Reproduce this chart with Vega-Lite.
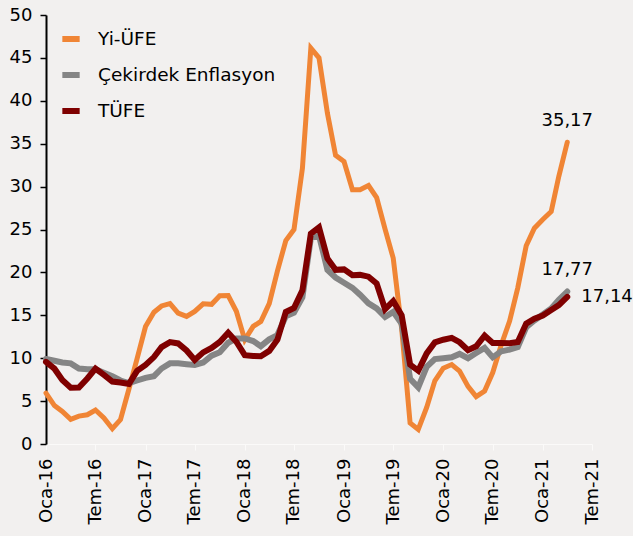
{
  "$schema": "https://vega.github.io/schema/vega-lite/v6.json",
  "autosize": "none",
  "width": 546,
  "height": 429,
  "padding": {"left": 46, "top": 15, "right": 41, "bottom": 92},
  "background": "#f2f0ef",
  "config": {
    "view": {"stroke": null},
    "font": "DejaVu Sans",
    "locale": {
      "number": {"decimal": ",", "thousands": ".", "grouping": [3], "currency": ["", " TL"]},
      "time": {
        "dateTime": "%a %e %b %X %Y",
        "date": "%d.%m.%Y",
        "time": "%H:%M:%S",
        "periods": ["ÖÖ", "ÖS"],
        "days": ["Pazar", "Pazartesi", "Salı", "Çarşamba", "Perşembe", "Cuma", "Cumartesi"],
        "shortDays": ["Paz", "Pzt", "Sal", "Çar", "Per", "Cum", "Cmt"],
        "months": ["Ocak", "Şubat", "Mart", "Nisan", "Mayıs", "Haziran", "Temmuz", "Ağustos", "Eylül", "Ekim", "Kasım", "Aralık"],
        "shortMonths": ["Oca", "Şub", "Mar", "Nis", "May", "Haz", "Tem", "Ağu", "Eyl", "Eki", "Kas", "Ara"]
      }
    }
  },
  "data": {
    "values": [
      {"date": "2016-01", "Yi-ÜFE": 5.94, "Çekirdek Enflasyon": 9.9, "TÜFE": 9.58},
      {"date": "2016-02", "Yi-ÜFE": 4.48, "Çekirdek Enflasyon": 9.7, "TÜFE": 8.78},
      {"date": "2016-03", "Yi-ÜFE": 3.80, "Çekirdek Enflasyon": 9.5, "TÜFE": 7.46},
      {"date": "2016-04", "Yi-ÜFE": 2.87, "Çekirdek Enflasyon": 9.4, "TÜFE": 6.57},
      {"date": "2016-05", "Yi-ÜFE": 3.25, "Çekirdek Enflasyon": 8.8, "TÜFE": 6.58},
      {"date": "2016-06", "Yi-ÜFE": 3.41, "Çekirdek Enflasyon": 8.7, "TÜFE": 7.64},
      {"date": "2016-07", "Yi-ÜFE": 3.96, "Çekirdek Enflasyon": 8.7, "TÜFE": 8.79},
      {"date": "2016-08", "Yi-ÜFE": 3.03, "Çekirdek Enflasyon": 8.3, "TÜFE": 8.05},
      {"date": "2016-09", "Yi-ÜFE": 1.78, "Çekirdek Enflasyon": 7.9, "TÜFE": 7.28},
      {"date": "2016-10", "Yi-ÜFE": 2.84, "Çekirdek Enflasyon": 7.4, "TÜFE": 7.16},
      {"date": "2016-11", "Yi-ÜFE": 6.41, "Çekirdek Enflasyon": 7.1, "TÜFE": 7.00},
      {"date": "2016-12", "Yi-ÜFE": 9.94, "Çekirdek Enflasyon": 7.4, "TÜFE": 8.53},
      {"date": "2017-01", "Yi-ÜFE": 13.69, "Çekirdek Enflasyon": 7.7, "TÜFE": 9.22},
      {"date": "2017-02", "Yi-ÜFE": 15.36, "Çekirdek Enflasyon": 7.9, "TÜFE": 10.13},
      {"date": "2017-03", "Yi-ÜFE": 16.09, "Çekirdek Enflasyon": 8.8, "TÜFE": 11.29},
      {"date": "2017-04", "Yi-ÜFE": 16.37, "Çekirdek Enflasyon": 9.4, "TÜFE": 11.87},
      {"date": "2017-05", "Yi-ÜFE": 15.26, "Çekirdek Enflasyon": 9.4, "TÜFE": 11.72},
      {"date": "2017-06", "Yi-ÜFE": 14.87, "Çekirdek Enflasyon": 9.3, "TÜFE": 10.90},
      {"date": "2017-07", "Yi-ÜFE": 15.45, "Çekirdek Enflasyon": 9.2, "TÜFE": 9.79},
      {"date": "2017-08", "Yi-ÜFE": 16.34, "Çekirdek Enflasyon": 9.5, "TÜFE": 10.68},
      {"date": "2017-09", "Yi-ÜFE": 16.28, "Çekirdek Enflasyon": 10.3, "TÜFE": 11.20},
      {"date": "2017-10", "Yi-ÜFE": 17.28, "Çekirdek Enflasyon": 10.7, "TÜFE": 11.90},
      {"date": "2017-11", "Yi-ÜFE": 17.30, "Çekirdek Enflasyon": 11.8, "TÜFE": 12.98},
      {"date": "2017-12", "Yi-ÜFE": 15.47, "Çekirdek Enflasyon": 12.3, "TÜFE": 11.92},
      {"date": "2018-01", "Yi-ÜFE": 12.14, "Çekirdek Enflasyon": 12.3, "TÜFE": 10.35},
      {"date": "2018-02", "Yi-ÜFE": 13.71, "Çekirdek Enflasyon": 12.0, "TÜFE": 10.26},
      {"date": "2018-03", "Yi-ÜFE": 14.28, "Çekirdek Enflasyon": 11.4, "TÜFE": 10.23},
      {"date": "2018-04", "Yi-ÜFE": 16.37, "Çekirdek Enflasyon": 12.2, "TÜFE": 10.85},
      {"date": "2018-05", "Yi-ÜFE": 20.16, "Çekirdek Enflasyon": 12.7, "TÜFE": 12.15},
      {"date": "2018-06", "Yi-ÜFE": 23.71, "Çekirdek Enflasyon": 14.9, "TÜFE": 15.39},
      {"date": "2018-07", "Yi-ÜFE": 25.00, "Çekirdek Enflasyon": 15.3, "TÜFE": 15.85},
      {"date": "2018-08", "Yi-ÜFE": 32.13, "Çekirdek Enflasyon": 17.1, "TÜFE": 17.90},
      {"date": "2018-09", "Yi-ÜFE": 46.15, "Çekirdek Enflasyon": 24.0, "TÜFE": 24.52},
      {"date": "2018-10", "Yi-ÜFE": 45.01, "Çekirdek Enflasyon": 24.3, "TÜFE": 25.24},
      {"date": "2018-11", "Yi-ÜFE": 38.54, "Çekirdek Enflasyon": 20.3, "TÜFE": 21.62},
      {"date": "2018-12", "Yi-ÜFE": 33.64, "Çekirdek Enflasyon": 19.4, "TÜFE": 20.30},
      {"date": "2019-01", "Yi-ÜFE": 32.93, "Çekirdek Enflasyon": 18.8, "TÜFE": 20.35},
      {"date": "2019-02", "Yi-ÜFE": 29.64, "Çekirdek Enflasyon": 18.2, "TÜFE": 19.67},
      {"date": "2019-03", "Yi-ÜFE": 29.64, "Çekirdek Enflasyon": 17.4, "TÜFE": 19.71},
      {"date": "2019-04", "Yi-ÜFE": 30.12, "Çekirdek Enflasyon": 16.4, "TÜFE": 19.50},
      {"date": "2019-05", "Yi-ÜFE": 28.71, "Çekirdek Enflasyon": 15.8, "TÜFE": 18.71},
      {"date": "2019-06", "Yi-ÜFE": 25.04, "Çekirdek Enflasyon": 14.8, "TÜFE": 15.72},
      {"date": "2019-07", "Yi-ÜFE": 21.66, "Çekirdek Enflasyon": 15.4, "TÜFE": 16.65},
      {"date": "2019-08", "Yi-ÜFE": 13.45, "Çekirdek Enflasyon": 14.0, "TÜFE": 15.01},
      {"date": "2019-09", "Yi-ÜFE": 2.45, "Çekirdek Enflasyon": 7.6, "TÜFE": 9.26},
      {"date": "2019-10", "Yi-ÜFE": 1.70, "Çekirdek Enflasyon": 6.6, "TÜFE": 8.55},
      {"date": "2019-11", "Yi-ÜFE": 4.26, "Çekirdek Enflasyon": 9.0, "TÜFE": 10.56},
      {"date": "2019-12", "Yi-ÜFE": 7.36, "Çekirdek Enflasyon": 9.9, "TÜFE": 11.84},
      {"date": "2020-01", "Yi-ÜFE": 8.84, "Çekirdek Enflasyon": 10.0, "TÜFE": 12.15},
      {"date": "2020-02", "Yi-ÜFE": 9.26, "Çekirdek Enflasyon": 10.1, "TÜFE": 12.37},
      {"date": "2020-03", "Yi-ÜFE": 8.50, "Çekirdek Enflasyon": 10.5, "TÜFE": 11.86},
      {"date": "2020-04", "Yi-ÜFE": 6.71, "Çekirdek Enflasyon": 10.0, "TÜFE": 10.94},
      {"date": "2020-05", "Yi-ÜFE": 5.53, "Çekirdek Enflasyon": 10.6, "TÜFE": 11.39},
      {"date": "2020-06", "Yi-ÜFE": 6.17, "Çekirdek Enflasyon": 11.2, "TÜFE": 12.62},
      {"date": "2020-07", "Yi-ÜFE": 8.33, "Çekirdek Enflasyon": 10.1, "TÜFE": 11.76},
      {"date": "2020-08", "Yi-ÜFE": 11.53, "Çekirdek Enflasyon": 10.8, "TÜFE": 11.77},
      {"date": "2020-09", "Yi-ÜFE": 14.33, "Çekirdek Enflasyon": 11.0, "TÜFE": 11.75},
      {"date": "2020-10", "Yi-ÜFE": 18.20, "Çekirdek Enflasyon": 11.3, "TÜFE": 11.89},
      {"date": "2020-11", "Yi-ÜFE": 23.11, "Çekirdek Enflasyon": 13.6, "TÜFE": 14.03},
      {"date": "2020-12", "Yi-ÜFE": 25.15, "Çekirdek Enflasyon": 14.4, "TÜFE": 14.60},
      {"date": "2021-01", "Yi-ÜFE": 26.16, "Çekirdek Enflasyon": 15.1, "TÜFE": 14.97},
      {"date": "2021-02", "Yi-ÜFE": 27.09, "Çekirdek Enflasyon": 15.8, "TÜFE": 15.61},
      {"date": "2021-03", "Yi-ÜFE": 31.20, "Çekirdek Enflasyon": 16.8, "TÜFE": 16.19},
      {"date": "2021-04", "Yi-ÜFE": 35.17, "Çekirdek Enflasyon": 17.77, "TÜFE": 17.14}
    ]
  },
  "transform": [
    {"fold": ["Yi-ÜFE", "Çekirdek Enflasyon", "TÜFE"], "as": ["seri", "deger"]}
  ],
  "encoding": {
    "x": {
      "field": "date",
      "type": "temporal",
      "scale": {"type": "utc", "domain": [{"year": 2016, "month": 1, "date": 1, "utc": true}, {"year": 2021, "month": 7, "date": 1, "utc": true}]},
      "axis": {
        "title": null,
        "format": "%b-%y",
        "tickCount": {"interval": "month", "step": 6},
        "labelAngle": -90,
        "labelFont": "DejaVu Sans",
        "labelFontSize": 18,
        "labelColor": "#000000",
        "labelPadding": 8,
        "labelFlush": false,
        "labelOverlap": false,
        "tickSize": 6,
        "tickColor": "#fbfaf9",
        "domainColor": "#fbfaf9",
        "grid": false
      }
    },
    "y": {
      "field": "deger",
      "type": "quantitative",
      "scale": {"domain": [0, 50], "nice": false},
      "axis": {
        "title": null,
        "values": [0, 5, 10, 15, 20, 25, 30, 35, 40, 45, 50],
        "labelFont": "DejaVu Sans",
        "labelFontSize": 18,
        "labelColor": "#000000",
        "labelPadding": 8,
        "labelFlush": false,
        "tickSize": 6,
        "tickColor": "#000000",
        "tickWidth": 1.5,
        "domainColor": "#000000",
        "domainWidth": 2,
        "grid": false
      }
    },
    "color": {
      "field": "seri",
      "type": "nominal",
      "scale": {"domain": ["Yi-ÜFE", "Çekirdek Enflasyon", "TÜFE"], "range": ["#f08535", "#858585", "#7f0000"]},
      "legend": {
        "title": null,
        "orient": "none",
        "legendX": 13,
        "legendY": 12,
        "symbolType": "stroke",
        "symbolStrokeWidth": 6,
        "symbolSize": 300,
        "labelFont": "DejaVu Sans",
        "labelFontSize": 18.5,
        "labelColor": "#000000",
        "labelOffset": 15,
        "labelLimit": 0,
        "rowPadding": 12
      }
    }
  },
  "layer": [
    {
      "transform": [{"filter": "datum.seri === 'Yi-ÜFE'"}],
      "mark": {"type": "line", "strokeWidth": 5, "strokeJoin": "miter", "strokeCap": "round"}
    },
    {
      "transform": [{"filter": "datum.seri === 'Çekirdek Enflasyon'"}],
      "mark": {"type": "line", "strokeWidth": 6, "strokeJoin": "miter", "strokeCap": "round"}
    },
    {
      "transform": [{"filter": "datum.seri === 'TÜFE'"}],
      "mark": {"type": "line", "strokeWidth": 6, "strokeJoin": "miter", "strokeCap": "round"}
    },
    {
      "transform": [{"filter": "datum.seri === 'Yi-ÜFE' && utcyear(datum.date) === 2021 && utcmonth(datum.date) === 3"}],
      "mark": {"type": "text", "align": "center", "baseline": "bottom", "dy": -12, "font": "DejaVu Sans", "fontSize": 18, "color": "#000000"},
      "encoding": {"text": {"field": "deger", "type": "quantitative", "format": ".2f"}, "color": {"value": "#000000"}}
    },
    {
      "transform": [{"filter": "datum.seri === 'Çekirdek Enflasyon' && utcyear(datum.date) === 2021 && utcmonth(datum.date) === 3"}],
      "mark": {"type": "text", "align": "center", "baseline": "bottom", "dy": -13, "font": "DejaVu Sans", "fontSize": 18, "color": "#000000"},
      "encoding": {"text": {"field": "deger", "type": "quantitative", "format": ".2f"}, "color": {"value": "#000000"}}
    },
    {
      "transform": [{"filter": "datum.seri === 'TÜFE' && utcyear(datum.date) === 2021 && utcmonth(datum.date) === 3"}],
      "mark": {"type": "text", "align": "left", "baseline": "middle", "dx": 14, "font": "DejaVu Sans", "fontSize": 18, "color": "#000000"},
      "encoding": {"text": {"field": "deger", "type": "quantitative", "format": ".2f"}, "color": {"value": "#000000"}}
    }
  ]
}
